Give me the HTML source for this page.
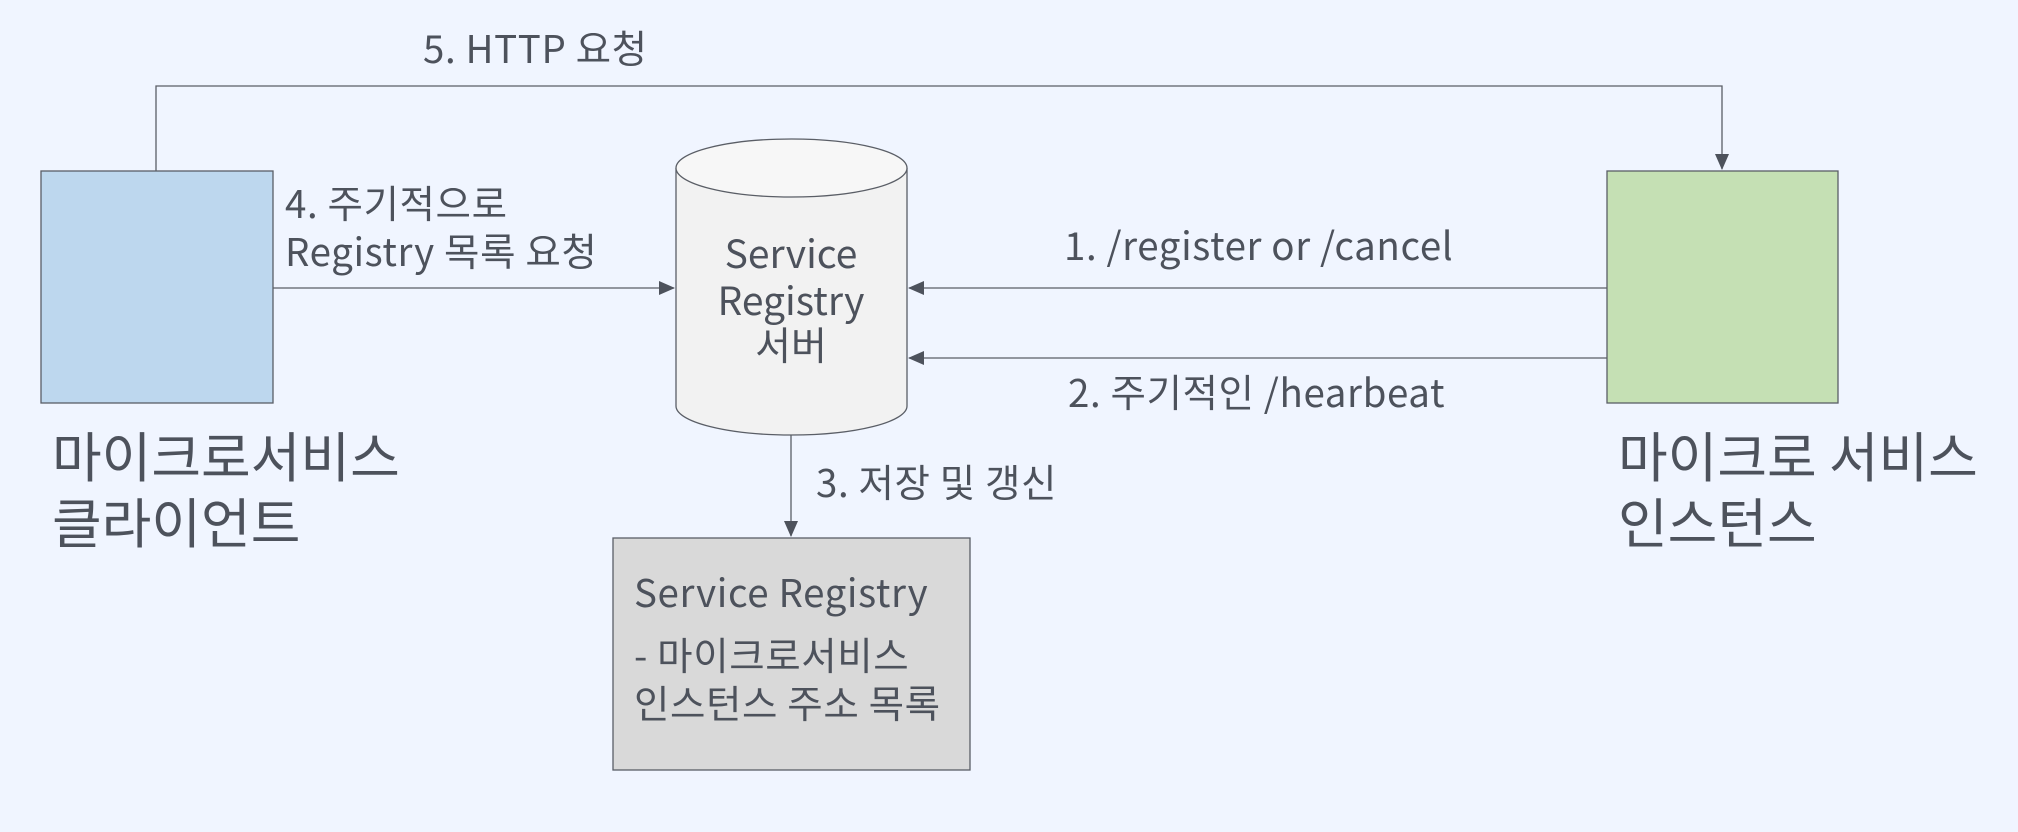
<!DOCTYPE html>
<html><head><meta charset="utf-8"><style>
html,body{margin:0;padding:0;background:#f0f5ff;}
svg{display:block}
text{font-family:"Noto Sans CJK KR","Liberation Sans",sans-serif;fill:#4d525c;}
</style></head><body>
<svg width="2018" height="832" viewBox="0 0 2018 832">
<rect width="2018" height="832" fill="#f0f5ff"/>
<defs>
<marker id="b" markerWidth="16" markerHeight="14" refX="15" refY="7" orient="auto" markerUnits="userSpaceOnUse"><path d="M0,0 L16,7 L0,14 Z" fill="#4d525c"/></marker></defs>
<g stroke="#5a5e66" stroke-width="1.3" fill="none">
<polyline points="156,171 156,86 1722,86 1722,169" marker-end="url(#b)"/>
<line x1="273" y1="288" x2="674" y2="288" marker-end="url(#b)"/>
<line x1="1607" y1="288" x2="909" y2="288" marker-end="url(#b)"/>
<line x1="1607" y1="358" x2="909" y2="358" marker-end="url(#b)"/>
<line x1="791" y1="435" x2="791" y2="536" marker-end="url(#b)"/>
</g>
<rect x="41" y="171" width="232" height="232" fill="#bdd7ee" stroke="#5a5e66" stroke-width="1.3"/>
<rect x="1607" y="171" width="231" height="232" fill="#c5e0b4" stroke="#5a5e66" stroke-width="1.3"/>
<rect x="613" y="538" width="357" height="232" fill="#d9d9d9" stroke="#5a5e66" stroke-width="1.3"/>
<path d="M676,168 L676,406 A115.5,29 0 0 0 907,406 L907,168" fill="#f2f2f2" stroke="#5a5e66" stroke-width="1.3"/>
<ellipse cx="791.5" cy="168" rx="115.5" ry="29" fill="#f7f7f7" stroke="#5a5e66" stroke-width="1.3"/>
<g font-size="39" text-anchor="middle">
<text x="791" y="268">Service</text>
<text x="791" y="315">Registry</text>
<text x="791" y="360">서버</text>
</g>
<g font-size="38.5" letter-spacing="0.6">
<text x="423" y="63">5. HTTP 요청</text>
<text x="285" y="218">4. 주기적으로</text>
<text x="285" y="266">Registry 목록 요청</text>
<text x="1064" y="260">1. /register or /cancel</text>
<text x="1068" y="407">2. 주기적인 /hearbeat</text>
<text x="816" y="497">3. 저장 및 갱신</text>
<text x="634" y="607">Service Registry</text>
<text x="634" y="670">- 마이크로서비스</text>
<text x="634" y="718">인스턴스 주소 목록</text>
</g>
<g font-size="54">
<text x="52" y="477">마이크로서비스</text>
<text x="52" y="543">클라이언트</text>
<text x="1618" y="477">마이크로 서비스</text>
<text x="1618" y="543">인스턴스</text>
</g>
</svg>
</body></html>
